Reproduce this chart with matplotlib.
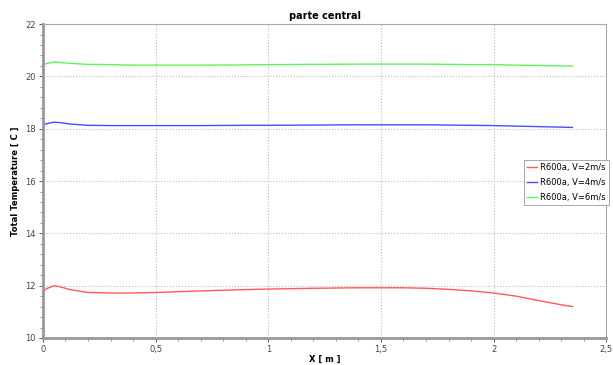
import matplotlib.pyplot as plt
from matplotlib.ticker import FuncFormatter, AutoMinorLocator
import numpy as np

# position along the pipe [m]
x = [0.0, 0.02, 0.05, 0.08, 0.12, 0.2, 0.3, 0.4, 0.5, 0.7, 0.9, 1.0, 1.2, 1.4, 1.6, 1.7,
     1.8, 1.9, 2.0, 2.1, 2.2, 2.3, 2.35]

t_v2 = [11.8, 11.9, 12.0, 11.95, 11.85, 11.74, 11.72, 11.72, 11.74, 11.8, 11.85, 11.87, 11.9,
        11.92, 11.92, 11.9, 11.86, 11.8, 11.72, 11.6, 11.43, 11.27, 11.2]
t_v4 = [18.15, 18.2, 18.25, 18.23, 18.18, 18.13, 18.12, 18.12, 18.12, 18.12, 18.13, 18.13, 18.14,
        18.15, 18.15, 18.15, 18.14, 18.13, 18.12, 18.1, 18.08, 18.06, 18.05]
t_v6 = [20.45, 20.5, 20.55, 20.53, 20.5, 20.46, 20.45, 20.43, 20.43, 20.43, 20.44, 20.45, 20.46,
        20.47, 20.47, 20.47, 20.46, 20.45, 20.45, 20.43, 20.42, 20.4, 20.4]

labels = ['R600a, V=2m/s', 'R600a, V=4m/s', 'R600a, V=6m/s']
colors = ['#ff5a5a', '#4a4aff', '#5af55a']

fig = plt.figure(figsize=(6.13, 3.65), dpi=100)
ax = fig.add_axes([0.070, 0.074, 0.919, 0.860])

for y, lab, c in zip([t_v2, t_v4, t_v6], labels, colors):
    ax.plot(x, y, color=c, lw=1.0, label=lab)

ax.set_xlim(0, 2.5)
ax.set_ylim(10, 22)
ax.set_xticks(np.arange(0, 2.51, 0.5))
ax.set_yticks(np.arange(10, 22.1, 2))
ax.xaxis.set_minor_locator(AutoMinorLocator(5))
ax.yaxis.set_minor_locator(AutoMinorLocator(5))
ax.xaxis.set_major_formatter(FuncFormatter(lambda v, p: ('%g' % v).replace('.', ',')))
ax.tick_params(labelsize=6, colors='#444444', length=3, width=0.6, pad=2)
ax.tick_params(which='minor', length=2, width=0.5, colors='#666666')
ax.grid(True, color='#bbbbbb', ls=':', lw=0.8)

for s in ax.spines.values():
    s.set_color('#aaaaaa')
    s.set_linewidth(0.8)
ax.spines['left'].set_linewidth(2.0)
ax.spines['bottom'].set_linewidth(2.0)
ax.spines['left'].set_color('#999999')
ax.spines['bottom'].set_color('#999999')

ax.set_title('parte central', fontsize=7, fontweight='bold', pad=4)
ax.set_xlabel('X [ m ]', fontsize=6, fontweight='bold', labelpad=1)
ax.set_ylabel('Total Temperature [ C ]', fontsize=6, fontweight='bold', labelpad=4)

leg = ax.legend(loc='center right', bbox_to_anchor=(1.012, 0.495), fontsize=6,
                handlelength=1.2, handletextpad=0.3, fancybox=False, framealpha=1,
                borderpad=0.4, labelspacing=0.7)
leg.get_frame().set_edgecolor('#999999')
leg.get_frame().set_linewidth(0.6)

fig.savefig('out.png', dpi=100)
